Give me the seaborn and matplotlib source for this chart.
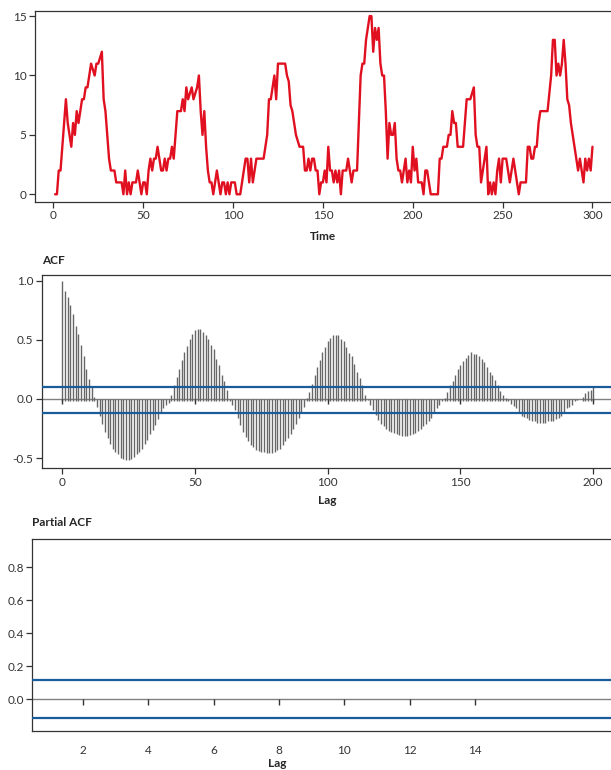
import matplotlib
matplotlib.use('Agg')
import matplotlib.pyplot as plt
import seaborn as sns
import numpy as np

# series, t = 1..300
series = [0, 0, 2, 2, 4, 6, 8, 6, 5, 4,
          6, 5, 7, 6, 7, 8, 8, 9, 9, 10,
          11, 10.5, 10, 11, 11, 11.5, 12, 8, 7, 5,
          3, 2, 2, 2, 1, 1, 1, 1, 0, 2,
          0, 1, 0, 1, 1, 1, 2, 1, 0, 1,
          1, 0, 2, 3, 2, 3, 3, 4, 3, 2,
          2, 3, 2, 3, 3, 4, 3, 5, 7, 7,
          7, 8, 7, 9, 8, 8.5, 9, 8, 8.5, 9,
          10, 7, 5, 7, 4, 2, 1, 1, 0, 1,
          2, 1, 0, 1, 1, 0, 1, 0, 1, 1,
          1, 0, 0, 0, 1, 2, 3, 3, 1, 3,
          1, 2, 3, 3, 3, 3, 3, 4, 5, 8,
          8, 9, 10, 8, 11, 11, 11, 11, 11, 10,
          9.5, 7.5, 7, 6, 5, 4.5, 4, 4, 4, 2,
          2, 3, 2, 3, 3, 2, 2, 0, 1, 1,
          2, 1, 4, 2, 2, 1, 2, 1, 2, 0,
          2, 2, 2, 3, 2, 1, 2, 2, 2, 6,
          10, 11, 11, 13, 14, 15, 15, 12, 14, 13,
          14, 11, 10, 10, 7, 3, 6, 5, 5, 6,
          3, 2, 2, 1, 2, 3, 1, 2, 1, 4,
          2, 3, 1, 1, 1, 0, 2, 2, 1, 0,
          0, 0, 0, 0, 3, 3, 4, 4, 4, 5,
          5, 7, 6, 6, 4, 4, 4, 4, 6, 8,
          8, 8, 8.5, 9, 5, 4, 4, 1, 2, 3,
          4, 0, 1, 0, 1, 0, 2, 3, 1, 3,
          3, 3, 2, 1, 2, 3, 2, 1, 0, 1,
          1, 1, 1, 4, 4, 3, 3, 4, 4, 6,
          7, 7, 7, 7, 7, 8.5, 10, 13, 13, 10,
          11, 10, 11, 13, 11, 8, 7.5, 6, 5, 4,
          3, 2, 3, 2, 1, 3, 2, 3, 2, 4]
time = list(range(1, len(series) + 1))

# acf, lag = 0..200
acf_vals = [1.00, 0.915, 0.86, 0.80, 0.72, 0.62, 0.55, 0.46, 0.36, 0.25,
            0.17, 0.10, 0.02, -0.065, -0.14, -0.21, -0.28, -0.33, -0.38, -0.42,
            -0.45, -0.47, -0.50, -0.51, -0.52, -0.52, -0.51, -0.49, -0.47, -0.45,
            -0.42, -0.38, -0.35, -0.30, -0.26, -0.22, -0.17, -0.12, -0.08, -0.05,
            -0.03, 0.03, 0.12, 0.19, 0.25, 0.33, 0.40, 0.45, 0.51, 0.55,
            0.58, 0.59, 0.59, 0.57, 0.54, 0.51, 0.46, 0.42, 0.34, 0.29,
            0.20, 0.15, 0.08, -0.02, -0.05, -0.09, -0.16, -0.22, -0.28, -0.32,
            -0.36, -0.39, -0.41, -0.43, -0.44, -0.45, -0.45, -0.455, -0.455, -0.455,
            -0.45, -0.43, -0.42, -0.39, -0.36, -0.33, -0.30, -0.25, -0.21, -0.16,
            -0.12, -0.065, 0.01, 0.06, 0.13, 0.20, 0.27, 0.33, 0.40, 0.44,
            0.49, 0.52, 0.54, 0.54, 0.54, 0.51, 0.49, 0.44, 0.39, 0.36,
            0.30, 0.23, 0.18, 0.12, 0.03, -0.01, -0.05, -0.09, -0.135, -0.18,
            -0.21, -0.23, -0.25, -0.27, -0.28, -0.29, -0.30, -0.305, -0.31, -0.31,
            -0.31, -0.305, -0.30, -0.285, -0.27, -0.25, -0.23, -0.21, -0.19, -0.16,
            -0.12, -0.08, -0.05, -0.02, 0.01, 0.06, 0.12, 0.15, 0.20, 0.25,
            0.29, 0.32, 0.35, 0.37, 0.40, 0.38, 0.38, 0.36, 0.34, 0.31,
            0.27, 0.23, 0.20, 0.16, 0.12, 0.07, 0.03, 0.01, -0.02, -0.04,
            -0.06, -0.08, -0.11, -0.14, -0.15, -0.16, -0.18, -0.19, -0.19, -0.20,
            -0.20, -0.20, -0.20, -0.19, -0.19, -0.185, -0.17, -0.16, -0.14, -0.11,
            -0.08, -0.065, -0.05, -0.02, -0.005, 0.0, 0.02, 0.05, 0.07, 0.08,
            0.10]
lags = list(range(len(acf_vals)))
acf_bounds = [0.105, -0.116]

pacf_lags = [2, 4, 6, 8, 10, 12, 14]
pacf_bounds = [0.114, -0.114]

top_xticks = [0, 50, 100, 150, 200, 250, 300]
top_yticks = [0, 5, 10, 15]
acf_xticks = [0, 50, 100, 150, 200]
acf_yticks = [-0.5, 0.0, 0.5, 1.0]
pacf_yticks = [0.0, 0.2, 0.4, 0.6, 0.8]

sns.set_style("ticks")
plt.rcParams['font.family'] = ['Lato', 'DejaVu Sans']
plt.rcParams['axes.edgecolor'] = '#333333'
plt.rcParams['axes.linewidth'] = 0.9
plt.rcParams['xtick.color'] = '#333333'
plt.rcParams['ytick.color'] = '#333333'

RED = '#e01020'
BLUE = '#1a5b9c'
BAR = '#666666'
FS = 8.5

W, H = 611, 770
fig = plt.figure(figsize=(W / 100, H / 100), dpi=100)

def box(l, t, r, b):
    return [l / W, 1 - b / H, (r - l) / W, (b - t) / H]

# --- time series
ax1 = fig.add_axes(box(35, 11, 625, 202))
sns.lineplot(x=time, y=series, ax=ax1, color=RED, linewidth=1.7)
ax1.set_xlim(-10.2, 318.1)
ax1.set_ylim(-0.65, 15.43)
ax1.set_xticks(top_xticks)
ax1.set_yticks(top_yticks)
ax1.set_xlabel('')
ax1.set_ylabel('')

# --- ACF
ax2 = fig.add_axes(box(41.7, 275, 625, 468.3))
lo = [-0.017 if v > 0 else 0 for v in acf_vals]
ax2.axhline(0, color='#808080', lw=1.0, zorder=1)
ax2.vlines(lags, lo, acf_vals, color=BAR, lw=1.0, zorder=2)
ax2.vlines(acf_xticks, 0, -0.045, color='#333333', lw=1.0, zorder=3)
for b in acf_bounds:
    ax2.axhline(b, color=BLUE, lw=1.6, zorder=4)
ax2.set_xlim(-7.8, 212.0)
ax2.set_ylim(-0.587, 1.05)
ax2.set_xticks(acf_xticks)
ax2.set_yticks(acf_yticks)
ax2.set_yticklabels(['-0.5', '0.0', '0.5', '1.0'])

# --- PACF
ax3 = fig.add_axes(box(32.3, 539.3, 625, 730.7))
ax3.axhline(0, color='#808080', lw=1.0, zorder=1)
ax3.vlines(pacf_lags, 0, -0.036, color='#333333', lw=1.0, zorder=3)
for b in pacf_bounds:
    ax3.axhline(b, color=BLUE, lw=1.6, zorder=4)
ax3.set_xlim(0.448, 18.59)
ax3.set_ylim(-0.192, 0.968)
ax3.set_xticks(pacf_lags)
ax3.set_yticks(pacf_yticks)
ax3.set_yticklabels(['0.0', '0.2', '0.4', '0.6', '0.8'])

for ax in (ax1, ax2, ax3):
    ax.tick_params(labelsize=FS, width=0.9, length=4, pad=2)
ax3.tick_params(axis='x', length=0, pad=10)

fig.text(323 / W, 1 - 237 / H, 'Time', ha='center', va='center', fontsize=FS, fontweight='bold')
fig.text(42 / W, 1 - 260 / H, 'ACF', ha='left', va='center', fontsize=FS, fontweight='bold')
fig.text(327 / W, 1 - 500 / H, 'Lag', ha='center', va='center', fontsize=FS, fontweight='bold')
fig.text(32 / W, 1 - 523 / H, 'Partial ACF', ha='left', va='center', fontsize=FS, fontweight='bold')
fig.text(277 / W, 1 - 758 / H, 'Lag', ha='center', va='top', fontsize=FS, fontweight='bold')

fig.savefig('out.png', dpi=100)
